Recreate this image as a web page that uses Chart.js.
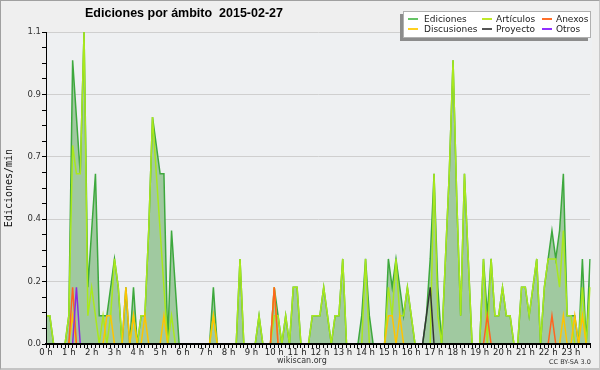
<!DOCTYPE html>
<html><head><meta charset="utf-8">
<script src="https://cdn.jsdelivr.net/npm/chart.js@4.4.1/dist/chart.umd.min.js"></script>
<style>
html,body{margin:0;padding:0;background:#efefef;}
#wrap{position:relative;width:600px;height:370px;overflow:hidden;background:#efefef;}
canvas{position:absolute;left:0;top:0;}
.frame{position:absolute;left:0;top:0;width:600px;height:370px;box-sizing:border-box;border:1px solid #a0a0a0;border-right-color:#c8c8c8;border-bottom:2px solid #c4c4c4;pointer-events:none;}
.title{position:absolute;left:85px;top:6px;font:bold 12.5px "Liberation Sans",Arial,sans-serif;color:#000;white-space:pre;}
.lbox{position:absolute;left:403px;top:11px;width:188px;height:27px;box-sizing:border-box;background:#fff;border:1px solid #b0b0b0;box-shadow:-3px 3px 0 #8c8c8c;}
.li{position:absolute;font:9px "DejaVu Sans",sans-serif;color:#222;line-height:10px;white-space:nowrap;}
.ls{position:absolute;height:2px;width:10px;}
.foot{position:absolute;font:8px "DejaVu Sans",sans-serif;color:#333;white-space:nowrap;}
</style></head>
<body>
<div id="wrap">
<canvas id="c" width="600" height="370"></canvas>
<div class="title">Ediciones por ámbito  2015-02-27</div>
<div class="lbox"></div>
<div id="legend"></div>
<div class="foot" style="left:277px;top:356px;">wikiscan.org</div>
<div class="foot" style="left:549px;top:358px;font-size:6.5px;">CC BY-SA 3.0</div>
<div class="frame"></div>
</div>
<script>
// ---- data (10-minute bins, edits per minute) ----
const hours = ['0 h','1 h','2 h','3 h','4 h','5 h','6 h','7 h','8 h','9 h','10 h','11 h',
               '12 h','13 h','14 h','15 h','16 h','17 h','18 h','19 h','20 h','21 h','22 h','23 h'];
const yTickLabels = ['0.0','0.2','0.4','0.7','0.9','1.1'];

const ediciones = [
 0.1,0.1,0,0,0,0,        0.1,1.0,0.8,0.6,1.1,0.2,   0.4,0.6,0.1,0.1,0.1,0.2,
 0.3,0.2,0,0.2,0,0.2,    0,0.1,0.1,0.4,0.8,0.7,     0.6,0.6,0,0.4,0.2,0,
 0,0,0,0,0,0,            0,0,0.2,0,0,0,             0,0,0,0.3,0,0,
 0,0,0.1,0,0,0,          0.2,0.1,0,0.1,0,0.2,       0.2,0,0,0,0.1,0.1,
 0.1,0.2,0.1,0,0.1,0.1,  0.3,0,0,0,0,0.1,           0.3,0.1,0,0,0,0,
 0.3,0.2,0.3,0.2,0.1,0.2, 0.1,0,0,0,0.1,0.3,        0.6,0.2,0,0.3,0.6,1.0,
 0.5,0.1,0.6,0.3,0,0,    0,0.3,0.1,0.3,0.1,0.1,     0.2,0.1,0.1,0,0,0.2,
 0.2,0.1,0.2,0.3,0,0.2,  0.3,0.4,0.3,0.4,0.6,0.1,   0.1,0.1,0,0.3,0,0.3
];
const articulos = [
 0.1,0.1,0,0,0,0,        0.1,0.7,0.6,0.6,1.1,0.1,   0.2,0.1,0,0.1,0,0.1,
 0.3,0.2,0,0,0,0.1,      0,0.1,0.1,0.4,0.8,0.6,     0.4,0.2,0,0.1,0,0,
 0,0,0,0,0,0,            0,0,0.1,0,0,0,             0,0,0,0.3,0,0,
 0,0,0.1,0,0,0,          0.1,0.1,0,0.1,0,0.2,       0.2,0,0,0,0.1,0.1,
 0.1,0.2,0.1,0,0.1,0.1,  0.3,0,0,0,0,0,             0.3,0,0,0,0,0,
 0.2,0.1,0.3,0.1,0.1,0.2, 0.1,0,0,0,0,0,            0.6,0.1,0,0.3,0.6,1.0,
 0.5,0.1,0.6,0.3,0,0,    0,0.3,0,0.3,0.1,0.1,       0.2,0.1,0.1,0,0,0.2,
 0.2,0.1,0.2,0.3,0,0.2,  0.3,0.3,0.3,0.2,0.4,0.1,   0.1,0,0,0.2,0,0.2
];
const discusiones = [
 0,0,0,0,0,0,  0,0.1,0,0,0,0,  0,0,0,0,0.1,0.1,
 0,0,0,0.2,0,0.1,  0,0,0.1,0,0,0,  0,0.1,0,0,0,0,
 0,0,0,0,0,0,  0,0,0.1,0,0,0,  0,0,0,0,0,0,
 0,0,0,0,0,0,  0.2,0,0,0,0,0,  0,0,0,0,0,0,
 0,0,0,0,0,0,  0,0,0,0,0,0,  0,0,0,0,0,0,
 0.1,0.1,0,0.1,0,0,  0,0,0,0,0,0,  0,0,0,0,0,0,
 0,0,0,0,0,0,  0,0,0,0,0,0,  0,0,0,0,0,0,
 0,0,0,0,0,0,  0,0,0,0,0.1,0,  0,0.1,0,0.1,0,0
];
const anexos = [
 0,0,0,0,0,0,  0,0.2,0,0,0,0,  0,0,0,0,0,0,
 0,0,0,0,0,0,  0,0,0,0,0,0,  0,0,0,0,0,0,
 0,0,0,0,0,0,  0,0,0,0,0,0,  0,0,0,0,0,0,
 0,0,0,0,0,0,  0.2,0,0,0,0,0,  0,0,0,0,0,0,
 0,0,0,0,0,0,  0,0,0,0,0,0,  0,0,0,0,0,0,
 0,0,0,0,0,0,  0,0,0,0,0,0,  0,0,0,0,0,0,
 0,0,0,0,0,0,  0,0,0.1,0,0,0,  0,0,0,0,0,0,
 0,0,0,0,0,0,  0,0.1,0,0,0,0,  0,0,0,0,0,0
];
const proyecto = [
 0,0,0,0,0,0,  0,0,0,0,0,0,  0,0,0,0,0,0,
 0,0,0,0,0,0,  0,0,0,0,0,0,  0,0,0,0,0,0,
 0,0,0,0,0,0,  0,0,0,0,0,0,  0,0,0,0,0,0,
 0,0,0,0,0,0,  0,0,0,0,0,0,  0,0,0,0,0,0,
 0,0,0,0,0,0,  0,0,0,0,0,0,  0,0,0,0,0,0,
 0,0,0,0,0,0,  0,0,0,0,0.1,0.2,  0,0,0,0,0,0,
 0,0,0,0,0,0,  0,0,0,0,0,0,  0,0,0,0,0,0,
 0,0,0,0,0,0,  0,0,0,0,0,0,  0,0,0,0,0,0
];
const otros = [
 0,0,0,0,0,0,  0,0,0.2,0,0,0,  0,0,0,0,0,0,
 0,0,0,0,0,0,  0,0,0,0,0,0,  0,0,0,0,0,0,
 0,0,0,0,0,0,  0,0,0,0,0,0,  0,0,0,0,0,0,
 0,0,0,0,0,0,  0,0,0,0,0,0,  0,0,0,0,0,0,
 0,0,0,0,0,0,  0,0,0,0,0,0,  0,0,0,0,0,0,
 0,0,0,0,0,0,  0,0,0,0,0,0,  0,0,0,0,0,0,
 0,0,0,0,0,0,  0,0,0,0,0,0,  0,0,0,0,0,0,
 0,0,0,0,0,0,  0,0,0,0,0,0,  0,0,0,0,0,0
];

const SLOTS = 6;
const labels = [];
for (let h = 0; h < hours.length; h++)
  for (let k = 0; k < SLOTS; k++) labels.push(k === 0 ? hours[h] : '');

// legend (HTML)
const legendItems = [
  ['Ediciones','#66c466',408,424,19], ['Artículos','#bfe82a',482,496,19], ['Anexos','#ff6f2a',542,556,19],
  ['Discusiones','#ffd020',408,424,29], ['Proyecto','#555555',482,496,29], ['Otros','#9030ff',542,556,29]
];
const lg = document.getElementById('legend');
legendItems.forEach(([t,c,lx,tx,cy]) => {
  const s = document.createElement('div'); s.className='ls';
  s.style.left = lx+'px'; s.style.top = (cy-1)+'px'; s.style.background = c; lg.appendChild(s);
  const d = document.createElement('div'); d.className='li';
  d.style.left = tx+'px'; d.style.top = (cy-5)+'px'; d.textContent = t; lg.appendChild(d);
});

const bgPlugin = {
  id:'bg',
  beforeDraw(chart){
    const {ctx, chartArea:a} = chart;
    ctx.save(); ctx.fillStyle = '#eef0f2';
    ctx.fillRect(a.left, a.top, a.right - a.left + 2, a.bottom - a.top);
    ctx.restore();
  }
};

const line = (label, data, color, order, extra) => Object.assign({
  label, data, borderColor: color, borderWidth: 1.5, pointRadius: 0, tension: 0,
  fill: false, order
}, extra || {});

new Chart(document.getElementById('c'), {
  type: 'line',
  data: {
    labels,
    datasets: [
      line('Ediciones', ediciones, '#3da83d', 10, {fill:'origin', backgroundColor:'#a0c9a0'}),
      line('Artículos', articulos, '#a9e81c', 5),
      line('Discusiones', discusiones, '#ffc400', 3),
      line('Anexos', anexos, '#ff6420', 2),
      line('Proyecto', proyecto, '#333333', 2),
      line('Otros', otros, '#8a2be2', 1)
    ]
  },
  options: {
    responsive: false, devicePixelRatio: 1, animation: false,
    layout: {padding: {top: 32, right: 10, left: 0, bottom: 0}},
    plugins: {legend: {display: false}, tooltip: {enabled: false}, title: {display: false}},
    scales: {
      x: {
        type: 'category', offset: false,
        grid: {display: true, drawOnChartArea: false, color: '#000', tickLength: 4, tickWidth: 1},
        border: {display: true, color: '#000', width: 2, z: 1},
        ticks: {autoSkip: false, maxRotation: 0, minRotation: 0, padding: 0, color: '#222',
                font: {family: 'DejaVu Sans', size: 8.5}},
        afterFit: s => { s.height = 26; }
      },
      y: {
        type: 'linear', min: 0, max: 1.1,
        ticks: {stepSize: 0.055, autoSkip: false, padding: 1, color: '#333',
                font: {family: 'DejaVu Sans', size: 8.5},
                callback: (v, i) => (i % 4 === 0 ? yTickLabels[i / 4] : '')},
        grid: {color: c => (c.index % 4 === 0 ? '#cfcfcf' : 'rgba(0,0,0,0)'),
               tickColor: '#000', tickLength: 4, lineWidth: 1},
        border: {display: true, color: '#000', width: 1, z: 1},
        title: {display: true, text: 'Ediciones/min', color: '#111',
                font: {family: 'DejaVu Sans Mono', size: 10}, padding: {top: 3, bottom: 0}},
        afterFit: s => { s.width = 46; }
      }
    }
  },
  plugins: [bgPlugin]
});
</script>
</body></html>
